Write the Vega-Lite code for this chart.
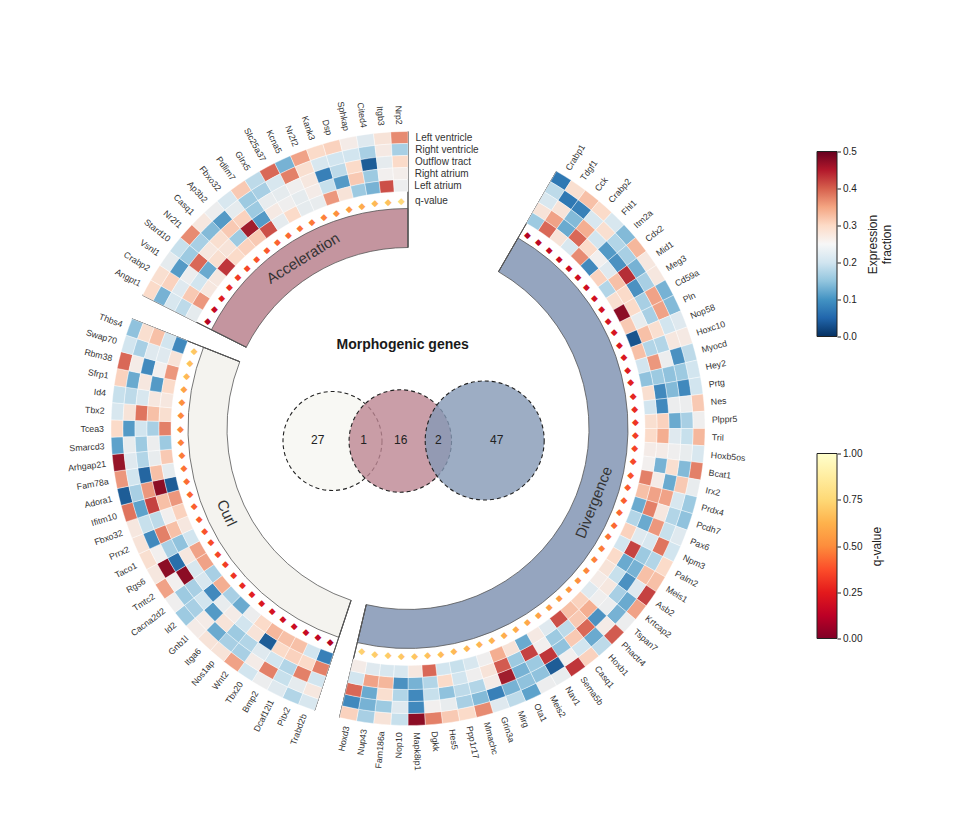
{"$schema":"https://vega.github.io/schema/vega-lite/v6.json","background":"white","padding":{"left":18,"top":100.5,"right":0,"bottom":0},"config":{"view":{"stroke":null},"font":"Liberation Sans"},"spacing":18,
"datasets":{
"sets":[{"set":"Acceleration","start":89,"end":108,"mid":98.5},{"set":"Curl","start":59.5,"end":87.5,"mid":73.5},{"set":"Divergence","start":9,"end":58,"mid":33.5}],
"spokes":[{"at":9},{"at":58},{"at":59.5},{"at":87.5},{"at":89},{"at":108}],
"venn":[{"set":"Curl","x":-75.5,"y":-12.5},{"set":"Acceleration","x":-7.7,"y":-12.5},{"set":"Divergence","x":76.7,"y":-12}],
"counts":[{"n":"27","x":-90.3,"y":-11},{"n":"1","x":-44.3,"y":-11},{"n":"16","x":-7.3,"y":-11},{"n":"2","x":30.3,"y":-11},{"n":"47","x":88.7,"y":-11}],
"heading":[{"t":"Morphogenic genes","x":-5.3,"y":83.5}],
"tracks":[{"track":"LV","label":"Left ventricle"},{"track":"RV","label":"Right ventricle"},{"track":"OT","label":"Outflow tract"},{"track":"RA","label":"Right atrium"},{"track":"LA","label":"Left atrium"}],
"genes":[
{"pos":9,"end":10,"mid":9.5,"gene":"Crabp1","q":0.02},{"pos":10,"end":11,"mid":10.5,"gene":"Tdgf1","q":0.05},{"pos":11,"end":12,"mid":11.5,"gene":"Cck","q":0.07},{"pos":12,"end":13,"mid":12.5,"gene":"Crabp2","q":0.09},{"pos":13,"end":14,"mid":13.5,"gene":"Fhl1","q":0.1},{"pos":14,"end":15,"mid":14.5,"gene":"Itm2a","q":0.11},{"pos":15,"end":16,"mid":15.5,"gene":"Cdx2","q":0.12},{"pos":16,"end":17,"mid":16.5,"gene":"Mid1","q":0.13},{"pos":17,"end":18,"mid":17.5,"gene":"Meg3","q":0.14},{"pos":18,"end":19,"mid":18.5,"gene":"Cd59a","q":0.15},{"pos":19,"end":20,"mid":19.5,"gene":"Pln","q":0.16},{"pos":20,"end":21,"mid":20.5,"gene":"Nop58","q":0.17},{"pos":21,"end":22,"mid":21.5,"gene":"Hoxc10","q":0.18},{"pos":22,"end":23,"mid":22.5,"gene":"Myocd","q":0.2},{"pos":23,"end":24,"mid":23.5,"gene":"Hey2","q":0.22},{"pos":24,"end":25,"mid":24.5,"gene":"Prtg","q":0.24},{"pos":25,"end":26,"mid":25.5,"gene":"Nes","q":0.26},{"pos":26,"end":27,"mid":26.5,"gene":"Plppr5","q":0.3},{"pos":27,"end":28,"mid":27.5,"gene":"Tril","q":0.33},{"pos":28,"end":29,"mid":28.5,"gene":"Hoxb5os","q":0.35},{"pos":29,"end":30,"mid":29.5,"gene":"Bcat1","q":0.37},{"pos":30,"end":31,"mid":30.5,"gene":"Irx2","q":0.4},{"pos":31,"end":32,"mid":31.5,"gene":"Prdx4","q":0.42},{"pos":32,"end":33,"mid":32.5,"gene":"Pcdh7","q":0.44},{"pos":33,"end":34,"mid":33.5,"gene":"Pax6","q":0.46},{"pos":34,"end":35,"mid":34.5,"gene":"Npm3","q":0.47},{"pos":35,"end":36,"mid":35.5,"gene":"Palm2","q":0.5},{"pos":36,"end":37,"mid":36.5,"gene":"Meis1","q":0.53},{"pos":37,"end":38,"mid":37.5,"gene":"Asb2","q":0.55},{"pos":38,"end":39,"mid":38.5,"gene":"Krtcap2","q":0.57},{"pos":39,"end":40,"mid":39.5,"gene":"Tspan7","q":0.6},{"pos":40,"end":41,"mid":40.5,"gene":"Phactr4","q":0.62},{"pos":41,"end":42,"mid":41.5,"gene":"Hoxb1","q":0.64},{"pos":42,"end":43,"mid":42.5,"gene":"Casq1","q":0.66},{"pos":43,"end":44,"mid":43.5,"gene":"Sema5b","q":0.68},{"pos":44,"end":45,"mid":44.5,"gene":"Nav1","q":0.7},{"pos":45,"end":46,"mid":45.5,"gene":"Meis2","q":0.72},{"pos":46,"end":47,"mid":46.5,"gene":"Ota1","q":0.73},{"pos":47,"end":48,"mid":47.5,"gene":"Mirg","q":0.75},{"pos":48,"end":49,"mid":48.5,"gene":"Grin3a","q":0.76},{"pos":49,"end":50,"mid":49.5,"gene":"Mmachc","q":0.77},{"pos":50,"end":51,"mid":50.5,"gene":"Ppp1r17","q":0.78},{"pos":51,"end":52,"mid":51.5,"gene":"Hes5","q":0.8},{"pos":52,"end":53,"mid":52.5,"gene":"Dgkk","q":0.82},{"pos":53,"end":54,"mid":53.5,"gene":"Mapk8ip1","q":0.84},{"pos":54,"end":55,"mid":54.5,"gene":"Nop10","q":0.85},{"pos":55,"end":56,"mid":55.5,"gene":"Fam186a","q":0.87},{"pos":56,"end":57,"mid":56.5,"gene":"Nup43","q":0.88},{"pos":57,"end":58,"mid":57.5,"gene":"Hoxd3","q":0.9},
{"pos":59.5,"end":60.5,"mid":60,"gene":"Trabd2b","q":0.01},{"pos":60.5,"end":61.5,"mid":61,"gene":"Pitx2","q":0.06},{"pos":61.5,"end":62.5,"mid":62,"gene":"Dcaf12l1","q":0.09},{"pos":62.5,"end":63.5,"mid":63,"gene":"Bmp2","q":0.1},{"pos":63.5,"end":64.5,"mid":64,"gene":"Tbx20","q":0.12},{"pos":64.5,"end":65.5,"mid":65,"gene":"Wnt2","q":0.15},{"pos":65.5,"end":66.5,"mid":66,"gene":"Nos1ap","q":0.18},{"pos":66.5,"end":67.5,"mid":67,"gene":"Itga6","q":0.22},{"pos":67.5,"end":68.5,"mid":68,"gene":"Gnb1l","q":0.26},{"pos":68.5,"end":69.5,"mid":69,"gene":"Id2","q":0.3},{"pos":69.5,"end":70.5,"mid":70,"gene":"Cacna2d2","q":0.33},{"pos":70.5,"end":71.5,"mid":71,"gene":"Tmtc2","q":0.36},{"pos":71.5,"end":72.5,"mid":72,"gene":"Rgs6","q":0.38},{"pos":72.5,"end":73.5,"mid":73,"gene":"Taco1","q":0.4},{"pos":73.5,"end":74.5,"mid":74,"gene":"Prrx2","q":0.42},{"pos":74.5,"end":75.5,"mid":75,"gene":"Fbxo32","q":0.44},{"pos":75.5,"end":76.5,"mid":76,"gene":"Ifitm10","q":0.46},{"pos":76.5,"end":77.5,"mid":77,"gene":"Adora1","q":0.48},{"pos":77.5,"end":78.5,"mid":78,"gene":"Fam78a","q":0.5},{"pos":78.5,"end":79.5,"mid":79,"gene":"Arhgap21","q":0.53},{"pos":79.5,"end":80.5,"mid":80,"gene":"Smarcd3","q":0.55},{"pos":80.5,"end":81.5,"mid":81,"gene":"Tcea3","q":0.57},{"pos":81.5,"end":82.5,"mid":82,"gene":"Tbx2","q":0.58},{"pos":82.5,"end":83.5,"mid":83,"gene":"Id4","q":0.6},{"pos":83.5,"end":84.5,"mid":84,"gene":"Sfrp1","q":0.68},{"pos":84.5,"end":85.5,"mid":85,"gene":"Rbm38","q":0.78},{"pos":85.5,"end":86.5,"mid":86,"gene":"Swap70","q":0.82},{"pos":86.5,"end":87.5,"mid":87,"gene":"Thbs4","q":0.85},
{"pos":89,"end":90,"mid":89.5,"gene":"Angpt1","q":0.02},{"pos":90,"end":91,"mid":90.5,"gene":"Crabp2","q":0.08},{"pos":91,"end":92,"mid":91.5,"gene":"Vsnl1","q":0.2},{"pos":92,"end":93,"mid":92.5,"gene":"Stard10","q":0.27},{"pos":93,"end":94,"mid":93.5,"gene":"Nr2f1","q":0.32},{"pos":94,"end":95,"mid":94.5,"gene":"Casq1","q":0.36},{"pos":95,"end":96,"mid":95.5,"gene":"Ap3b2","q":0.4},{"pos":96,"end":97,"mid":96.5,"gene":"Fbxo32","q":0.42},{"pos":97,"end":98,"mid":97.5,"gene":"Pdlim7","q":0.45},{"pos":98,"end":99,"mid":98.5,"gene":"Glrx5","q":0.47},{"pos":99,"end":100,"mid":99.5,"gene":"Slc25a37","q":0.5},{"pos":100,"end":101,"mid":100.5,"gene":"Kcna5","q":0.52},{"pos":101,"end":102,"mid":101.5,"gene":"Nr2f2","q":0.55},{"pos":102,"end":103,"mid":102.5,"gene":"Kank3","q":0.6},{"pos":103,"end":104,"mid":103.5,"gene":"Dsp","q":0.65},{"pos":104,"end":105,"mid":104.5,"gene":"Sphkap","q":0.72},{"pos":105,"end":106,"mid":105.5,"gene":"Cited4","q":0.78},{"pos":106,"end":107,"mid":106.5,"gene":"Itgb3","q":0.82},{"pos":107,"end":108,"mid":107.5,"gene":"Nrp2","q":0.95}],
"cells":[
{"pos":9,"track":"LV","value":0.05},{"pos":9,"track":"RV","value":0.18},{"pos":9,"track":"OT","value":0.21},{"pos":9,"track":"RA","value":0.28},{"pos":9,"track":"LA","value":0.15},
{"pos":10,"track":"LV","value":0.29},{"pos":10,"track":"RV","value":0.05},{"pos":10,"track":"OT","value":0.28},{"pos":10,"track":"RA","value":0.36},{"pos":10,"track":"LA","value":0.41},
{"pos":11,"track":"LV","value":0.33},{"pos":11,"track":"RV","value":0.06},{"pos":11,"track":"OT","value":0.13},{"pos":11,"track":"RA","value":0.11},{"pos":11,"track":"LA","value":0.28},
{"pos":12,"track":"LV","value":0.3},{"pos":12,"track":"RV","value":0.21},{"pos":12,"track":"OT","value":0.35},{"pos":12,"track":"RA","value":0.41},{"pos":12,"track":"LA","value":0.21},
{"pos":13,"track":"LV","value":0.21},{"pos":13,"track":"RV","value":0.29},{"pos":13,"track":"OT","value":0.2},{"pos":13,"track":"RA","value":0.3},{"pos":13,"track":"LA","value":0.38},
{"pos":14,"track":"LV","value":0.13},{"pos":14,"track":"RV","value":0.17},{"pos":14,"track":"OT","value":0.09},{"pos":14,"track":"RA","value":0.25},{"pos":14,"track":"LA","value":0.07},
{"pos":15,"track":"LV","value":0.34},{"pos":15,"track":"RV","value":0.16},{"pos":15,"track":"OT","value":0.08},{"pos":15,"track":"RA","value":0.22},{"pos":15,"track":"LA","value":0.31},
{"pos":16,"track":"LV","value":0.27},{"pos":16,"track":"RV","value":0.12},{"pos":16,"track":"OT","value":0.46},{"pos":16,"track":"RA","value":0.33},{"pos":16,"track":"LA","value":0.17},
{"pos":17,"track":"LV","value":0.27},{"pos":17,"track":"RV","value":0.16},{"pos":17,"track":"OT","value":0.08},{"pos":17,"track":"RA","value":0.3},{"pos":17,"track":"LA","value":0.29},
{"pos":18,"track":"LV","value":0.12},{"pos":18,"track":"RV","value":0.36},{"pos":18,"track":"OT","value":0.16},{"pos":18,"track":"RA","value":0.3},{"pos":18,"track":"LA","value":0.5},
{"pos":19,"track":"LV","value":0.13},{"pos":19,"track":"RV","value":0.36},{"pos":19,"track":"OT","value":0.16},{"pos":19,"track":"RA","value":0.235},{"pos":19,"track":"LA","value":0.32},
{"pos":20,"track":"LV","value":0.22},{"pos":20,"track":"RV","value":0.2},{"pos":20,"track":"OT","value":0.29},{"pos":20,"track":"RA","value":0.33},{"pos":20,"track":"LA","value":0.01},
{"pos":21,"track":"LV","value":0.265},{"pos":21,"track":"RV","value":0.27},{"pos":21,"track":"OT","value":0.17},{"pos":21,"track":"RA","value":0.17},{"pos":21,"track":"LA","value":0.33},
{"pos":22,"track":"LV","value":0.18},{"pos":22,"track":"RV","value":0.08},{"pos":22,"track":"OT","value":0.24},{"pos":22,"track":"RA","value":0.37},{"pos":22,"track":"LA","value":0.2},
{"pos":23,"track":"LV","value":0.2},{"pos":23,"track":"RV","value":0.15},{"pos":23,"track":"OT","value":0.14},{"pos":23,"track":"RA","value":0.15},{"pos":23,"track":"LA","value":0.14},
{"pos":24,"track":"LV","value":0.2},{"pos":24,"track":"RV","value":0.07},{"pos":24,"track":"OT","value":0.13},{"pos":24,"track":"RA","value":0.07},{"pos":24,"track":"LA","value":0.29},
{"pos":25,"track":"LV","value":0.32},{"pos":25,"track":"RV","value":0.24},{"pos":25,"track":"OT","value":0.24},{"pos":25,"track":"RA","value":0.07},{"pos":25,"track":"LA","value":0.2},
{"pos":26,"track":"LV","value":0.245},{"pos":26,"track":"RV","value":0.16},{"pos":26,"track":"OT","value":0.11},{"pos":26,"track":"RA","value":0.31},{"pos":26,"track":"LA","value":0.29},
{"pos":27,"track":"LV","value":0.34},{"pos":27,"track":"RV","value":0.19},{"pos":27,"track":"OT","value":0.22},{"pos":27,"track":"RA","value":0.35},{"pos":27,"track":"LA","value":0.3},
{"pos":28,"track":"LV","value":0.21},{"pos":28,"track":"RV","value":0.235},{"pos":28,"track":"OT","value":0.245},{"pos":28,"track":"RA","value":0.26},{"pos":28,"track":"LA","value":0.26},
{"pos":29,"track":"LV","value":0.39},{"pos":29,"track":"RV","value":0.13},{"pos":29,"track":"OT","value":0.29},{"pos":29,"track":"RA","value":0.12},{"pos":29,"track":"LA","value":0.25},
{"pos":30,"track":"LV","value":0.235},{"pos":30,"track":"RV","value":0.32},{"pos":30,"track":"OT","value":0.11},{"pos":30,"track":"RA","value":0.26},{"pos":30,"track":"LA","value":0.39},
{"pos":31,"track":"LV","value":0.15},{"pos":31,"track":"RV","value":0.21},{"pos":31,"track":"OT","value":0.36},{"pos":31,"track":"RA","value":0.36},{"pos":31,"track":"LA","value":0.33},
{"pos":32,"track":"LV","value":0.14},{"pos":32,"track":"RV","value":0.17},{"pos":32,"track":"OT","value":0.27},{"pos":32,"track":"RA","value":0.39},{"pos":32,"track":"LA","value":0.11},
{"pos":33,"track":"LV","value":0.22},{"pos":33,"track":"RV","value":0.19},{"pos":33,"track":"OT","value":0.37},{"pos":33,"track":"RA","value":0.11},{"pos":33,"track":"LA","value":0.17},
{"pos":34,"track":"LV","value":0.2},{"pos":34,"track":"RV","value":0.4},{"pos":34,"track":"OT","value":0.21},{"pos":34,"track":"RA","value":0.22},{"pos":34,"track":"LA","value":0.31},
{"pos":35,"track":"LV","value":0.3},{"pos":35,"track":"RV","value":0.17},{"pos":35,"track":"OT","value":0.15},{"pos":35,"track":"RA","value":0.44},{"pos":35,"track":"LA","value":0.2},
{"pos":36,"track":"LV","value":0.33},{"pos":36,"track":"RV","value":0.33},{"pos":36,"track":"OT","value":0.12},{"pos":36,"track":"RA","value":0.11},{"pos":36,"track":"LA","value":0.3},
{"pos":37,"track":"LV","value":0.44},{"pos":37,"track":"RV","value":0.22},{"pos":37,"track":"OT","value":0.08},{"pos":37,"track":"RA","value":0.19},{"pos":37,"track":"LA","value":0.28},
{"pos":38,"track":"LV","value":0.36},{"pos":38,"track":"RV","value":0.11},{"pos":38,"track":"OT","value":0.16},{"pos":38,"track":"RA","value":0.27},{"pos":38,"track":"LA","value":0.26},
{"pos":39,"track":"LV","value":0.24},{"pos":39,"track":"RV","value":0.12},{"pos":39,"track":"OT","value":0.24},{"pos":39,"track":"RA","value":0.245},{"pos":39,"track":"LA","value":0.22},
{"pos":40,"track":"LV","value":0.42},{"pos":40,"track":"RV","value":0.26},{"pos":40,"track":"OT","value":0.08},{"pos":40,"track":"RA","value":0.35},{"pos":40,"track":"LA","value":0.31},
{"pos":41,"track":"LV","value":0.18},{"pos":41,"track":"RV","value":0.11},{"pos":41,"track":"OT","value":0.41},{"pos":41,"track":"RA","value":0.32},{"pos":41,"track":"LA","value":0.33},
{"pos":42,"track":"LV","value":0.31},{"pos":42,"track":"RV","value":0.2},{"pos":42,"track":"OT","value":0.32},{"pos":42,"track":"RA","value":0.18},{"pos":42,"track":"LA","value":0.43},
{"pos":43,"track":"LV","value":0.45},{"pos":43,"track":"RV","value":0.25},{"pos":43,"track":"OT","value":0.14},{"pos":43,"track":"RA","value":0.15},{"pos":43,"track":"LA","value":0.22},
{"pos":44,"track":"LV","value":0.235},{"pos":44,"track":"RV","value":0.02},{"pos":44,"track":"OT","value":0.45},{"pos":44,"track":"RA","value":0.25},{"pos":44,"track":"LA","value":0.265},
{"pos":45,"track":"LV","value":0.24},{"pos":45,"track":"RV","value":0.14},{"pos":45,"track":"OT","value":0.15},{"pos":45,"track":"RA","value":0.44},{"pos":45,"track":"LA","value":0.11},
{"pos":46,"track":"LV","value":0.1},{"pos":46,"track":"RV","value":0.14},{"pos":46,"track":"OT","value":0.12},{"pos":46,"track":"RA","value":0.15},{"pos":46,"track":"LA","value":0.28},
{"pos":47,"track":"LV","value":0.18},{"pos":47,"track":"RV","value":0.12},{"pos":47,"track":"OT","value":0.48},{"pos":47,"track":"RA","value":0.42},{"pos":47,"track":"LA","value":0.35},
{"pos":48,"track":"LV","value":0.22},{"pos":48,"track":"RV","value":0.06},{"pos":48,"track":"OT","value":0.26},{"pos":48,"track":"RA","value":0.28},{"pos":48,"track":"LA","value":0.245},
{"pos":49,"track":"LV","value":0.38},{"pos":49,"track":"RV","value":0.13},{"pos":49,"track":"OT","value":0.17},{"pos":49,"track":"RA","value":0.245},{"pos":49,"track":"LA","value":0.21},
{"pos":50,"track":"LV","value":0.3},{"pos":50,"track":"RV","value":0.16},{"pos":50,"track":"OT","value":0.18},{"pos":50,"track":"RA","value":0.2},{"pos":50,"track":"LA","value":0.19},
{"pos":51,"track":"LV","value":0.32},{"pos":51,"track":"RV","value":0.235},{"pos":51,"track":"OT","value":0.14},{"pos":51,"track":"RA","value":0.3},{"pos":51,"track":"LA","value":0.2},
{"pos":52,"track":"LV","value":0.39},{"pos":52,"track":"RV","value":0.25},{"pos":52,"track":"OT","value":0.19},{"pos":52,"track":"RA","value":0.17},{"pos":52,"track":"LA","value":0.41},
{"pos":53,"track":"LV","value":0.5},{"pos":53,"track":"RV","value":0.07},{"pos":53,"track":"OT","value":0.07},{"pos":53,"track":"RA","value":0.12},{"pos":53,"track":"LA","value":0.27},
{"pos":54,"track":"LV","value":0.19},{"pos":54,"track":"RV","value":0.22},{"pos":54,"track":"OT","value":0.17},{"pos":54,"track":"RA","value":0.08},{"pos":54,"track":"LA","value":0.21},
{"pos":55,"track":"LV","value":0.28},{"pos":55,"track":"RV","value":0.15},{"pos":55,"track":"OT","value":0.29},{"pos":55,"track":"RA","value":0.34},{"pos":55,"track":"LA","value":0.21},
{"pos":56,"track":"LV","value":0.16},{"pos":56,"track":"RV","value":0.12},{"pos":56,"track":"OT","value":0.11},{"pos":56,"track":"RA","value":0.36},{"pos":56,"track":"LA","value":0.22},
{"pos":57,"track":"LV","value":0.31},{"pos":57,"track":"RV","value":0.07},{"pos":57,"track":"OT","value":0.41},{"pos":57,"track":"RA","value":0.2},{"pos":57,"track":"LA","value":0.26},
{"pos":59.5,"track":"LV","value":0.21},{"pos":59.5,"track":"RV","value":0.27},{"pos":59.5,"track":"OT","value":0.2},{"pos":59.5,"track":"RA","value":0.39},{"pos":59.5,"track":"LA","value":0.06},
{"pos":60.5,"track":"LV","value":0.17},{"pos":60.5,"track":"RV","value":0.23},{"pos":60.5,"track":"OT","value":0.39},{"pos":60.5,"track":"RA","value":0.3},{"pos":60.5,"track":"LA","value":0.2},
{"pos":61.5,"track":"LV","value":0.22},{"pos":61.5,"track":"RV","value":0.19},{"pos":61.5,"track":"OT","value":0.17},{"pos":61.5,"track":"RA","value":0.31},{"pos":61.5,"track":"LA","value":0.33},
{"pos":62.5,"track":"LV","value":0.24},{"pos":62.5,"track":"RV","value":0.39},{"pos":62.5,"track":"OT","value":0.2},{"pos":62.5,"track":"RA","value":0.3},{"pos":62.5,"track":"LA","value":0.33},
{"pos":63.5,"track":"LV","value":0.2},{"pos":63.5,"track":"RV","value":0.26},{"pos":63.5,"track":"OT","value":0.22},{"pos":63.5,"track":"RA","value":0.02},{"pos":63.5,"track":"LA","value":0.34},
{"pos":64.5,"track":"LV","value":0.36},{"pos":64.5,"track":"RV","value":0.16},{"pos":64.5,"track":"OT","value":0.17},{"pos":64.5,"track":"RA","value":0.28},{"pos":64.5,"track":"LA","value":0.3},
{"pos":65.5,"track":"LV","value":0.28},{"pos":65.5,"track":"RV","value":0.16},{"pos":65.5,"track":"OT","value":0.15},{"pos":65.5,"track":"RA","value":0.2},{"pos":65.5,"track":"LA","value":0.24},
{"pos":66.5,"track":"LV","value":0.28},{"pos":66.5,"track":"RV","value":0.11},{"pos":66.5,"track":"OT","value":0.28},{"pos":66.5,"track":"RA","value":0.26},{"pos":66.5,"track":"LA","value":0.11},
{"pos":67.5,"track":"LV","value":0.26},{"pos":67.5,"track":"RV","value":0.26},{"pos":67.5,"track":"OT","value":0.09},{"pos":67.5,"track":"RA","value":0.235},{"pos":67.5,"track":"LA","value":0.16},
{"pos":68.5,"track":"LV","value":0.15},{"pos":68.5,"track":"RV","value":0.16},{"pos":68.5,"track":"OT","value":0.2},{"pos":68.5,"track":"RA","value":0.07},{"pos":68.5,"track":"LA","value":0.35},
{"pos":69.5,"track":"LV","value":0.245},{"pos":69.5,"track":"RV","value":0.15},{"pos":69.5,"track":"OT","value":0.16},{"pos":69.5,"track":"RA","value":0.21},{"pos":69.5,"track":"LA","value":0.16},
{"pos":70.5,"track":"LV","value":0.36},{"pos":70.5,"track":"RV","value":0.25},{"pos":70.5,"track":"OT","value":0.5},{"pos":70.5,"track":"RA","value":0.21},{"pos":70.5,"track":"LA","value":0.36},
{"pos":71.5,"track":"LV","value":0.27},{"pos":71.5,"track":"RV","value":0.5},{"pos":71.5,"track":"OT","value":0.04},{"pos":71.5,"track":"RA","value":0.27},{"pos":71.5,"track":"LA","value":0.36},
{"pos":72.5,"track":"LV","value":0.29},{"pos":72.5,"track":"RV","value":0.25},{"pos":72.5,"track":"OT","value":0.16},{"pos":72.5,"track":"RA","value":0.14},{"pos":72.5,"track":"LA","value":0.2},
{"pos":73.5,"track":"LV","value":0.28},{"pos":73.5,"track":"RV","value":0.07},{"pos":73.5,"track":"OT","value":0.39},{"pos":73.5,"track":"RA","value":0.33},{"pos":73.5,"track":"LA","value":0.27},
{"pos":74.5,"track":"LV","value":0.27},{"pos":74.5,"track":"RV","value":0.19},{"pos":74.5,"track":"OT","value":0.18},{"pos":74.5,"track":"RA","value":0.25},{"pos":74.5,"track":"LA","value":0.31},
{"pos":75.5,"track":"LV","value":0.4},{"pos":75.5,"track":"RV","value":0.1},{"pos":75.5,"track":"OT","value":0.44},{"pos":75.5,"track":"RA","value":0.33},{"pos":75.5,"track":"LA","value":0.37},
{"pos":76.5,"track":"LV","value":0.02},{"pos":76.5,"track":"RV","value":0.16},{"pos":76.5,"track":"OT","value":0.37},{"pos":76.5,"track":"RA","value":0.5},{"pos":76.5,"track":"LA","value":0.02},
{"pos":77.5,"track":"LV","value":0.37},{"pos":77.5,"track":"RV","value":0.2},{"pos":77.5,"track":"OT","value":0.03},{"pos":77.5,"track":"RA","value":0.33},{"pos":77.5,"track":"LA","value":0.23},
{"pos":78.5,"track":"LV","value":0.49},{"pos":78.5,"track":"RV","value":0.22},{"pos":78.5,"track":"OT","value":0.17},{"pos":78.5,"track":"RA","value":0.235},{"pos":78.5,"track":"LA","value":0.32},
{"pos":79.5,"track":"LV","value":0.1},{"pos":79.5,"track":"RV","value":0.235},{"pos":79.5,"track":"OT","value":0.15},{"pos":79.5,"track":"RA","value":0.24},{"pos":79.5,"track":"LA","value":0.15},
{"pos":80.5,"track":"LV","value":0.3},{"pos":80.5,"track":"RV","value":0.09},{"pos":80.5,"track":"OT","value":0.2},{"pos":80.5,"track":"RA","value":0.16},{"pos":80.5,"track":"LA","value":0.39},
{"pos":81.5,"track":"LV","value":0.21},{"pos":81.5,"track":"RV","value":0.28},{"pos":81.5,"track":"OT","value":0.4},{"pos":81.5,"track":"RA","value":0.33},{"pos":81.5,"track":"LA","value":0.29},
{"pos":82.5,"track":"LV","value":0.19},{"pos":82.5,"track":"RV","value":0.18},{"pos":82.5,"track":"OT","value":0.21},{"pos":82.5,"track":"RA","value":0.27},{"pos":82.5,"track":"LA","value":0.27},
{"pos":83.5,"track":"LV","value":0.31},{"pos":83.5,"track":"RV","value":0.11},{"pos":83.5,"track":"OT","value":0.27},{"pos":83.5,"track":"RA","value":0.09},{"pos":83.5,"track":"LA","value":0.3},
{"pos":84.5,"track":"LV","value":0.41},{"pos":84.5,"track":"RV","value":0.26},{"pos":84.5,"track":"OT","value":0.07},{"pos":84.5,"track":"RA","value":0.25},{"pos":84.5,"track":"LA","value":0.37},
{"pos":85.5,"track":"LV","value":0.2},{"pos":85.5,"track":"RV","value":0.16},{"pos":85.5,"track":"OT","value":0.22},{"pos":85.5,"track":"RA","value":0.22},{"pos":85.5,"track":"LA","value":0.28},
{"pos":86.5,"track":"LV","value":0.14},{"pos":86.5,"track":"RV","value":0.29},{"pos":86.5,"track":"OT","value":0.33},{"pos":86.5,"track":"RA","value":0.2},{"pos":86.5,"track":"LA","value":0.07},
{"pos":89,"track":"LV","value":0.3},{"pos":89,"track":"RV","value":0.12},{"pos":89,"track":"OT","value":0.21},{"pos":89,"track":"RA","value":0.18},{"pos":89,"track":"LA","value":0.23},
{"pos":90,"track":"LV","value":0.29},{"pos":90,"track":"RV","value":0.31},{"pos":90,"track":"OT","value":0.22},{"pos":90,"track":"RA","value":0.32},{"pos":90,"track":"LA","value":0.37},
{"pos":91,"track":"LV","value":0.23},{"pos":91,"track":"RV","value":0.09},{"pos":91,"track":"OT","value":0.24},{"pos":91,"track":"RA","value":0.2},{"pos":91,"track":"LA","value":0.27},
{"pos":92,"track":"LV","value":0.19},{"pos":92,"track":"RV","value":0.15},{"pos":92,"track":"OT","value":0.41},{"pos":92,"track":"RA","value":0.11},{"pos":92,"track":"LA","value":0.27},
{"pos":93,"track":"LV","value":0.38},{"pos":93,"track":"RV","value":0.16},{"pos":93,"track":"OT","value":0.27},{"pos":93,"track":"RA","value":0.29},{"pos":93,"track":"LA","value":0.45},
{"pos":94,"track":"LV","value":0.27},{"pos":94,"track":"RV","value":0.13},{"pos":94,"track":"OT","value":0.29},{"pos":94,"track":"RA","value":0.28},{"pos":94,"track":"LA","value":0.3},
{"pos":95,"track":"LV","value":0.24},{"pos":95,"track":"RV","value":0.09},{"pos":95,"track":"OT","value":0.32},{"pos":95,"track":"RA","value":0.15},{"pos":95,"track":"LA","value":0.31},
{"pos":96,"track":"LV","value":0.21},{"pos":96,"track":"RV","value":0.23},{"pos":96,"track":"OT","value":0.31},{"pos":96,"track":"RA","value":0.48},{"pos":96,"track":"LA","value":0.32},
{"pos":97,"track":"LV","value":0.32},{"pos":97,"track":"RV","value":0.15},{"pos":97,"track":"OT","value":0.15},{"pos":97,"track":"RA","value":0.09},{"pos":97,"track":"LA","value":0.43},
{"pos":98,"track":"LV","value":0.18},{"pos":98,"track":"RV","value":0.16},{"pos":98,"track":"OT","value":0.235},{"pos":98,"track":"RA","value":0.265},{"pos":98,"track":"LA","value":0.23},
{"pos":99,"track":"LV","value":0.41},{"pos":99,"track":"RV","value":0.21},{"pos":99,"track":"OT","value":0.23},{"pos":99,"track":"RA","value":0.245},{"pos":99,"track":"LA","value":0.3},
{"pos":100,"track":"LV","value":0.12},{"pos":100,"track":"RV","value":0.39},{"pos":100,"track":"OT","value":0.245},{"pos":100,"track":"RA","value":0.23},{"pos":100,"track":"LA","value":0.23},
{"pos":101,"track":"LV","value":0.36},{"pos":101,"track":"RV","value":0.29},{"pos":101,"track":"OT","value":0.27},{"pos":101,"track":"RA","value":0.26},{"pos":101,"track":"LA","value":0.235},
{"pos":102,"track":"LV","value":0.3},{"pos":102,"track":"RV","value":0.21},{"pos":102,"track":"OT","value":0.06},{"pos":102,"track":"RA","value":0.19},{"pos":102,"track":"LA","value":0.37},
{"pos":103,"track":"LV","value":0.31},{"pos":103,"track":"RV","value":0.2},{"pos":103,"track":"OT","value":0.18},{"pos":103,"track":"RA","value":0.09},{"pos":103,"track":"LA","value":0.28},
{"pos":104,"track":"LV","value":0.26},{"pos":104,"track":"RV","value":0.2},{"pos":104,"track":"OT","value":0.3},{"pos":104,"track":"RA","value":0.32},{"pos":104,"track":"LA","value":0.15},
{"pos":105,"track":"LV","value":0.22},{"pos":105,"track":"RV","value":0.16},{"pos":105,"track":"OT","value":0.02},{"pos":105,"track":"RA","value":0.15},{"pos":105,"track":"LA","value":0.12},
{"pos":106,"track":"LV","value":0.28},{"pos":106,"track":"RV","value":0.265},{"pos":106,"track":"OT","value":0.23},{"pos":106,"track":"RA","value":0.25},{"pos":106,"track":"LA","value":0.43},
{"pos":107,"track":"LV","value":0.38},{"pos":107,"track":"RV","value":0.16},{"pos":107,"track":"OT","value":0.3},{"pos":107,"track":"RA","value":0.255},{"pos":107,"track":"LA","value":0.24}
]},
"hconcat":[
{"width":780,"height":554,"resolve":{"scale":{"color":"independent","size":"independent"}},"layer":[
{"data":{"name":"sets"},"mark":{"type":"arc","innerRadius":181,"outerRadius":220,"stroke":"#555555","strokeWidth":0.8},"encoding":{"theta":{"field":"start","type":"quantitative","stack":null,"scale":{"domain":[0,108],"range":[0,6.283185]}},"theta2":{"field":"end"},"color":{"field":"set","type":"nominal","legend":null,"scale":{"domain":["Acceleration","Curl","Divergence"],"range":["#C4959F","#F4F3EF","#95A5BF"]}}}},
{"data":{"name":"spokes"},"mark":{"type":"arc","innerRadius":181,"outerRadius":297,"stroke":"#555555","strokeWidth":1},"encoding":{"theta":{"field":"at","type":"quantitative","stack":null,"scale":{"domain":[0,108],"range":[0,6.283185]}},"theta2":{"field":"at"}}},
{"data":{"name":"cells"},"transform":[{"lookup":"pos","from":{"data":{"name":"genes"},"key":"pos","fields":["end","gene"]}}],"mark":{"type":"arc","stroke":"white","strokeWidth":0.4},"encoding":{"theta":{"field":"pos","type":"quantitative","stack":null,"scale":{"domain":[0,108],"range":[0,6.283185]}},"theta2":{"field":"end"},"radius":{"field":"track","type":"nominal","scale":{"type":"band","domain":["LA","RA","OT","RV","LV"],"range":[237,297],"paddingInner":0,"paddingOuter":0}},"color":{"field":"value","type":"quantitative","legend":null,"scale":{"scheme":"redblue","reverse":true,"domain":[0,0.5]}}}},
{"data":{"name":"genes"},"mark":{"type":"text","radius":227.5,"text":"◆","font":"DejaVu Sans","fontSize":9,"baseline":"middle","align":"center"},"encoding":{"theta":{"field":"mid","type":"quantitative","stack":null,"scale":{"domain":[0,108],"range":[0,6.283185]}},"color":{"field":"q","type":"quantitative","legend":null,"scale":{"scheme":"yelloworangered","reverse":true,"domain":[0,1]}}}},
{"data":{"name":"genes"},"transform":[{"filter":"datum.mid < 54"}],"mark":{"type":"text","radius":304,"align":"left","baseline":"middle","fontSize":8.8,"color":"#333333"},"encoding":{"text":{"field":"gene"},"theta":{"field":"mid","type":"quantitative","stack":null,"scale":{"domain":[0,108],"range":[0,6.283185]}},"angle":{"field":"mid","type":"quantitative","legend":null,"scale":{"domain":[0,54,54.001,108],"range":[-90,90,-90,90]}}}},
{"data":{"name":"genes"},"transform":[{"filter":"datum.mid > 54"}],"mark":{"type":"text","radius":304,"align":"right","baseline":"middle","fontSize":8.8,"color":"#333333"},"encoding":{"text":{"field":"gene"},"theta":{"field":"mid","type":"quantitative","stack":null,"scale":{"domain":[0,108],"range":[0,6.283185]}},"angle":{"field":"mid","type":"quantitative","legend":null,"scale":{"domain":[0,54,54.001,108],"range":[-90,90,-90,90]}}}},
{"data":{"name":"tracks"},"mark":{"type":"text","align":"left","baseline":"middle","fontSize":10,"color":"#333333"},"encoding":{"text":{"field":"label"},"theta":{"datum":0.45,"type":"quantitative","stack":null,"scale":{"domain":[0,108],"range":[0,6.283185]}},"radius":{"field":"track","type":"nominal","scale":{"type":"band","domain":["LA","RA","OT","RV","LV"],"range":[237,297],"paddingInner":0,"paddingOuter":0}}}},
{"data":{"values":[{"label":"q-value"}]},"mark":{"type":"text","radius":228,"align":"left","baseline":"middle","fontSize":10,"color":"#333333"},"encoding":{"text":{"field":"label"},"theta":{"datum":0.53,"type":"quantitative","stack":null,"scale":{"domain":[0,108],"range":[0,6.283185]}}}},
{"data":{"name":"sets"},"transform":[{"filter":"datum.set == 'Acceleration'"}],"mark":{"type":"text","radius":200,"angle":-31.67,"fontSize":15,"baseline":"middle","color":"#333333"},"encoding":{"text":{"field":"set"},"theta":{"field":"mid","type":"quantitative","stack":null,"scale":{"domain":[0,108],"range":[0,6.283185]}}}},
{"data":{"name":"sets"},"transform":[{"filter":"datum.set == 'Curl'"}],"mark":{"type":"text","radius":200,"angle":65,"fontSize":15,"baseline":"middle","color":"#333333"},"encoding":{"text":{"field":"set"},"theta":{"field":"mid","type":"quantitative","stack":null,"scale":{"domain":[0,108],"range":[0,6.283185]}}}},
{"data":{"name":"sets"},"transform":[{"filter":"datum.set == 'Divergence'"}],"mark":{"type":"text","radius":200,"angle":-68.33,"fontSize":15,"baseline":"middle","color":"#333333"},"encoding":{"text":{"field":"set"},"theta":{"field":"mid","type":"quantitative","stack":null,"scale":{"domain":[0,108],"range":[0,6.283185]}}}},
{"data":{"name":"venn"},"mark":{"type":"point","filled":true,"fillOpacity":0.8,"stroke":"#222222","strokeWidth":1.1,"strokeOpacity":1,"strokeDash":[4,3]},"encoding":{"x":{"field":"x","type":"quantitative","axis":null,"scale":{"domain":[-390,390]}},"y":{"field":"y","type":"quantitative","axis":null,"scale":{"domain":[-277,277]}},"size":{"field":"set","type":"nominal","legend":null,"scale":{"type":"ordinal","domain":["Curl","Acceleration","Divergence"],"range":[9801,10506,14161]}},"color":{"field":"set","type":"nominal","legend":null,"scale":{"domain":["Curl","Acceleration","Divergence"],"range":["#F6F6F1","#BD8692","#8598B5"]}}}},
{"data":{"name":"counts"},"mark":{"type":"text","fontSize":12,"baseline":"middle","color":"#222222"},"encoding":{"text":{"field":"n"},"x":{"field":"x","type":"quantitative","axis":null,"scale":{"domain":[-390,390]}},"y":{"field":"y","type":"quantitative","axis":null,"scale":{"domain":[-277,277]}}}},
{"data":{"name":"heading"},"mark":{"type":"text","fontSize":14,"fontWeight":"bold","baseline":"middle","color":"#1a1a1a"},"encoding":{"text":{"field":"t"},"x":{"field":"x","type":"quantitative","axis":null,"scale":{"domain":[-390,390]}},"y":{"field":"y","type":"quantitative","axis":null,"scale":{"domain":[-277,277]}}}}
]},
{"spacing":107,"vconcat":[
{"width":20,"height":185,"data":{"values":[{"from":0,"to":0.5}]},"mark":{"type":"rect","stroke":"#222222","strokeWidth":1,"color":{"gradient":"linear","x1":0,"x2":0,"y1":1,"y2":0,"stops":[{"offset":0,"color":"#053061"},{"offset":0.1,"color":"#2166ac"},{"offset":0.2,"color":"#4393c3"},{"offset":0.3,"color":"#92c5de"},{"offset":0.4,"color":"#d1e5f0"},{"offset":0.5,"color":"#f7f7f7"},{"offset":0.6,"color":"#fddbc7"},{"offset":0.7,"color":"#f4a582"},{"offset":0.8,"color":"#d6604d"},{"offset":0.9,"color":"#b2182b"},{"offset":1,"color":"#67001f"}]}},"encoding":{"y":{"field":"from","type":"quantitative","scale":{"domain":[0,0.5]},"axis":{"orient":"right","values":[0,0.1,0.2,0.3,0.4,0.5],"format":".1f","grid":false,"title":["Expression","fraction"],"titleAngle":-90,"titleFontWeight":"normal","titleFontSize":12,"titleColor":"#222222","labelFontSize":10,"labelColor":"#222222","tickColor":"#222222","tickSize":3.5,"domain":false,"titlePadding":9}},"y2":{"field":"to"}}},
{"width":20,"height":185,"data":{"values":[{"from":0,"to":1}]},"mark":{"type":"rect","stroke":"#222222","strokeWidth":1,"color":{"gradient":"linear","x1":0,"x2":0,"y1":1,"y2":0,"stops":[{"offset":0,"color":"#800026"},{"offset":0.125,"color":"#bd0026"},{"offset":0.25,"color":"#e31a1c"},{"offset":0.375,"color":"#fc4e2a"},{"offset":0.5,"color":"#fd8d3c"},{"offset":0.625,"color":"#feb24c"},{"offset":0.75,"color":"#fed976"},{"offset":0.875,"color":"#ffeda0"},{"offset":1,"color":"#ffffcc"}]}},"encoding":{"y":{"field":"from","type":"quantitative","scale":{"domain":[0,1]},"axis":{"orient":"right","values":[0,0.25,0.5,0.75,1],"format":".2f","grid":false,"title":"q-value","titleAngle":-90,"titleFontWeight":"normal","titleFontSize":12,"titleColor":"#222222","labelFontSize":10,"labelColor":"#222222","tickColor":"#222222","tickSize":3.5,"domain":false,"titlePadding":22}},"y2":{"field":"to"}}}
]}
]}
